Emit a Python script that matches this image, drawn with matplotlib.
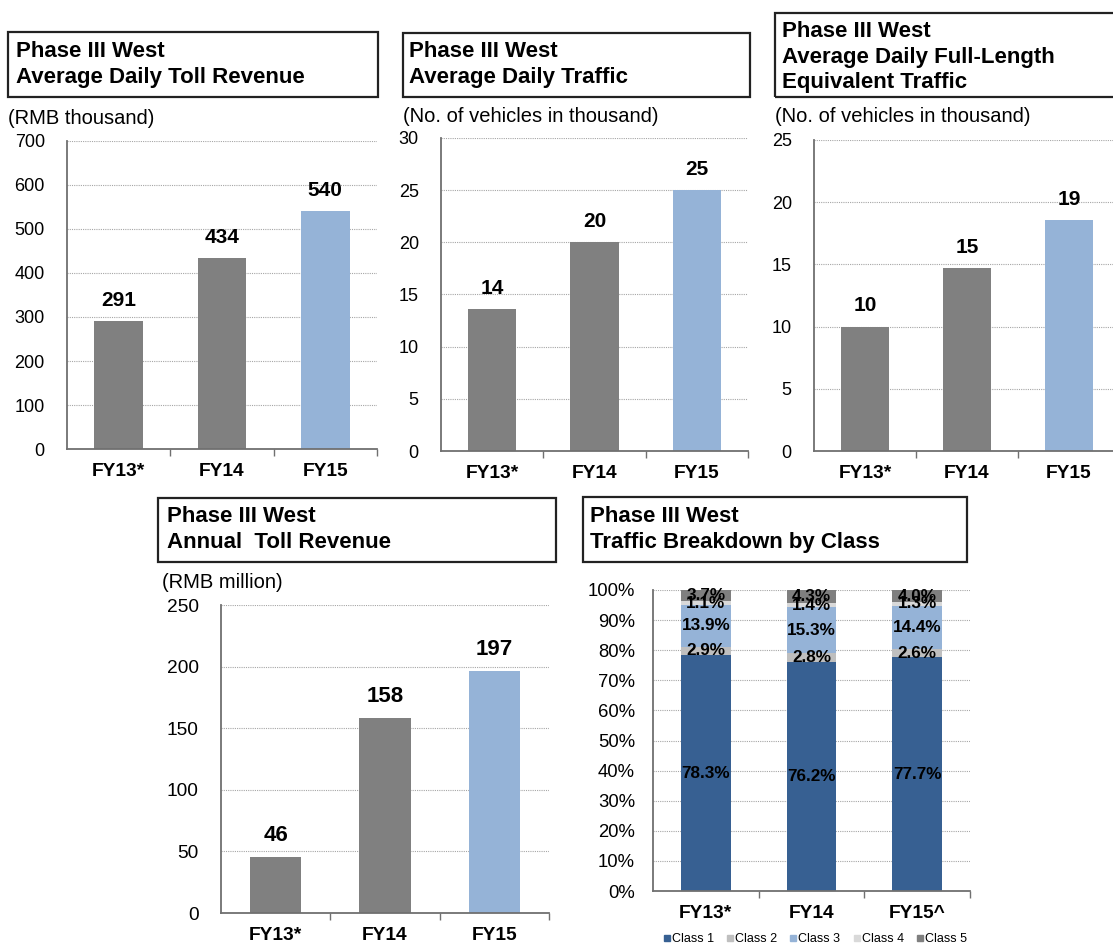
import matplotlib
matplotlib.use("Agg")
import matplotlib.pyplot as plt
from matplotlib.patches import Rectangle
from matplotlib.lines import Line2D

plt.rcParams['font.family'] = ['Liberation Sans', 'DejaVu Sans']

W, H = 1113, 946

years = ['FY13*', 'FY14', 'FY15']
years_class = ['FY13*', 'FY14', 'FY15^']

daily_toll = [291, 434, 540]
daily_traffic = [13.6, 20.0, 25.0]
full_length_traffic = [10.0, 14.7, 18.6]
annual_toll = [45.6, 158.2, 196.6]

class_names = ['Class 1', 'Class 2', 'Class 3', 'Class 4', 'Class 5']
class_shares = [
    [78.3, 76.2, 77.7],
    [2.9, 2.8, 2.6],
    [13.9, 15.3, 14.4],
    [1.1, 1.4, 1.3],
    [3.7, 4.3, 4.0],
]
class_colors = ['#376092', '#BFBFBF', '#95B3D7', '#D9D9D9', '#7F7F7F']

GREY_BAR = '#808080'
BLUE_BAR = '#95B3D7'
SPINE = '#707070'

fig = plt.figure(figsize=(W / 100, H / 100), dpi=100)
fig.patch.set_facecolor('white')


def px_axes(left, top, right, bottom):
    return fig.add_axes([left / W, 1 - bottom / H, (right - left) / W, (bottom - top) / H])


def title_box(left, top, right, bottom, text_x, baselines, lines):
    fig.patches.append(Rectangle((left / W, 1 - bottom / H), (right - left) / W,
                                 (bottom - top) / H, transform=fig.transFigure,
                                 fill=False, edgecolor='#222222', linewidth=1.6))
    for y, line in zip(baselines, lines):
        fig.text(text_x / W, 1 - y / H, line, fontsize=16, fontweight='bold',
                 ha='left', va='baseline')


def unit_label(x, y, text):
    fig.text(x / W, 1 - y / H, text, fontsize=14.5, ha='left', va='center')


def style_axes(ax, ymax, step, xlabels, ypad=16, fmt='{:g}', ysize=13, xsize=13.8):
    ax.set_xlim(-0.5, 2.5)
    ax.set_ylim(0, ymax)
    ticks = [i * step for i in range(int(round(ymax / step)) + 1)]
    ax.set_yticks(ticks)
    ax.set_yticklabels([fmt.format(t) for t in ticks])
    ax.set_xticks(range(3))
    ax.set_xticklabels(xlabels, fontweight='bold', fontsize=xsize)
    ax.set_xticks([0.5, 1.5, 2.5], minor=True)
    ax.tick_params(axis='x', which='major', length=0, pad=10)
    ax.tick_params(axis='x', which='minor', length=5, width=1, color=SPINE, direction='out')
    ax.tick_params(axis='y', length=0, pad=ypad, labelsize=ysize)
    for s in ['top', 'right']:
        ax.spines[s].set_visible(False)
    for s in ['left', 'bottom']:
        ax.spines[s].set_color(SPINE)
        ax.spines[s].set_linewidth(1.3)
    ax.yaxis.grid(True, linestyle=(0, (1, 1)), color='#A6A6A6', linewidth=0.8)
    ax.set_axisbelow(True)


def value_bars(ax, values, ymax, step, vsize=15, ysize=13, label_fmt='{:.0f}'):
    colors = [GREY_BAR, GREY_BAR, BLUE_BAR]
    bars = ax.bar(range(3), values, width=0.47, color=colors)
    for b, v in zip(bars, values):
        ax.annotate(label_fmt.format(v), (b.get_x() + b.get_width() / 2, v),
                    xytext=(0, 8), textcoords='offset points', ha='center',
                    va='bottom', fontsize=vsize, fontweight='bold')
    style_axes(ax, ymax, step, years, ysize=ysize)


# Average daily toll revenue
title_box(8, 32, 378, 97, 16, [57, 83], ['Phase III West', 'Average Daily Toll Revenue'])
unit_label(8, 119, '(RMB thousand)')
ax1 = px_axes(67, 141, 377, 449)
value_bars(ax1, daily_toll, 700, 100)

# Average daily traffic
title_box(403, 33, 750, 97, 409, [57, 83], ['Phase III West', 'Average Daily Traffic'])
unit_label(403, 117, '(No. of vehicles in thousand)')
ax2 = px_axes(441, 138, 748, 451)
value_bars(ax2, daily_traffic, 30, 5)

# Full-length equivalent traffic
title_box(775, 13, 1116, 97, 782, [37, 63, 88],
          ['Phase III West', 'Average Daily Full-Length', 'Equivalent Traffic'])
unit_label(775, 117, '(No. of vehicles in thousand)')
ax3 = px_axes(814, 140, 1120, 451)
value_bars(ax3, full_length_traffic, 25, 5)

# Annual toll revenue
title_box(158, 498, 556, 562, 167, [522, 548], ['Phase III West', 'Annual  Toll Revenue'])
unit_label(162, 582, '(RMB million)')
ax4 = px_axes(221, 605, 549, 913)
value_bars(ax4, annual_toll, 250, 50, vsize=16, ysize=13.8)

# Traffic breakdown by class
title_box(583, 497, 967, 562, 590, [522, 548], ['Phase III West', 'Traffic Breakdown by Class'])
ax5 = px_axes(653, 590, 970, 891)
bottoms = [0, 0, 0]
for name, shares, color in zip(class_names, class_shares, class_colors):
    ax5.bar(range(3), shares, width=0.47, bottom=bottoms, color=color, label=name)
    for i, (b, s) in enumerate(zip(bottoms, shares)):
        ax5.text(i, b + s / 2, f'{s:.1f}%', ha='center', va='center',
                 fontsize=12.3, fontweight='bold', color='black')
    bottoms = [b + s for b, s in zip(bottoms, shares)]
style_axes(ax5, 100, 10, years_class, ypad=13, fmt='{:g}%', ysize=13.3, xsize=13.8)

handles = [Line2D([], [], marker='s', linestyle='none', markersize=5,
                  markerfacecolor=c, markeredgecolor=c) for c in class_colors]
fig.legend(handles, class_names, loc='center', bbox_to_anchor=(815 / W, 1 - 939 / H),
           ncol=5, frameon=False, fontsize=9, handlelength=0.6, handletextpad=0.1,
           columnspacing=1.0, borderpad=0)

fig.savefig('out.png', dpi=100, facecolor='white')
